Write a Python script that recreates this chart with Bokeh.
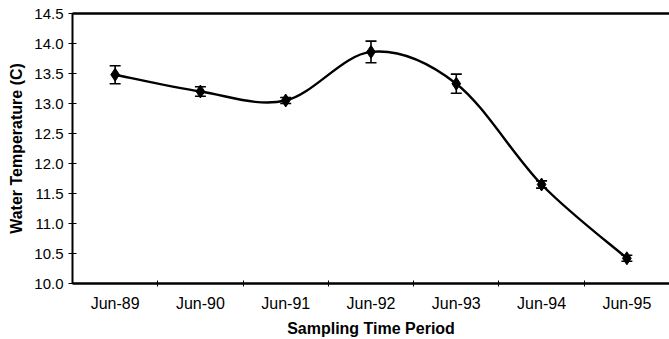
from bokeh.plotting import figure
from bokeh.models import (ColumnDataSource, FixedTicker, Whisker, TeeHead, LinearAxis,
                          Range1d, NumeralTickFormatter)
from bokeh.embed import file_html
from bokeh.resources import INLINE

periods = ["Jun-89", "Jun-90", "Jun-91", "Jun-92", "Jun-93", "Jun-94", "Jun-95"]
temps = [13.48, 13.20, 13.05, 13.86, 13.33, 11.65, 10.42]
errs = [0.15, 0.08, 0.05, 0.18, 0.16, 0.06, 0.05]
y_ticks = [10.0, 10.5, 11.0, 11.5, 12.0, 12.5, 13.0, 13.5, 14.0, 14.5]

FONT = "Liberation Sans"

xs = [i + 0.5 for i in range(len(periods))]
n = len(xs)

p = figure(width=669, height=339, output_backend="svg", toolbar_location=None,
           x_range=Range1d(0, n), y_range=Range1d(10.0, 14.5),
           min_border_left=72, min_border_right=0, min_border_top=13, min_border_bottom=55)
p.background_fill_color = "white"
p.border_fill_color = "white"
p.outline_line_color = None
p.xgrid.visible = False
p.ygrid.visible = False

# smooth (Catmull-Rom style bezier) line through the points
x0, y0, x1, y1, cx0, cy0, cx1, cy1 = [], [], [], [], [], [], [], []
for i in range(n - 1):
    pa = (xs[max(i - 1, 0)], temps[max(i - 1, 0)])
    pb = (xs[i], temps[i])
    pc = (xs[i + 1], temps[i + 1])
    pd = (xs[min(i + 2, n - 1)], temps[min(i + 2, n - 1)])
    x0.append(pb[0]); y0.append(pb[1])
    x1.append(pc[0]); y1.append(pc[1])
    cx0.append(pb[0] + (pc[0] - pa[0]) / 6); cy0.append(pb[1] + (pc[1] - pa[1]) / 6)
    cx1.append(pc[0] - (pd[0] - pb[0]) / 6); cy1.append(pc[1] - (pd[1] - pb[1]) / 6)
p.bezier(x0=x0, y0=y0, x1=x1, y1=y1, cx0=cx0, cy0=cy0, cx1=cx1, cy1=cy1,
         line_color="black", line_width=2.4)

src = ColumnDataSource(dict(x=xs, y=temps,
                            lo=[t - e for t, e in zip(temps, errs)],
                            hi=[t + e for t, e in zip(temps, errs)]))
w = Whisker(source=src, base="x", upper="hi", lower="lo", dimension="height",
            line_color="black", line_width=1.6,
            upper_head=TeeHead(size=11, line_color="black", line_width=1.6),
            lower_head=TeeHead(size=11, line_color="black", line_width=1.6))
p.add_layout(w)
p.scatter("x", "y", source=src, marker="diamond", size=13, color="black")

# x axis
xa = p.xaxis[0]
xa.ticker = FixedTicker(ticks=xs, minor_ticks=list(range(1, n)))
xa.major_label_overrides = {x: lab for x, lab in zip(xs, periods)}
xa.major_tick_line_color = None
xa.minor_tick_line_color = "black"
xa.minor_tick_in = 3
xa.minor_tick_out = 3
xa.axis_line_width = 2.5
xa.axis_line_color = "black"
xa.major_label_text_font = FONT
xa.major_label_text_font_size = "16px"
xa.major_label_text_color = "black"
xa.major_label_standoff = 5
xa.axis_label = "Sampling Time Period"
xa.axis_label_text_font = FONT
xa.axis_label_text_font_style = "bold"
xa.axis_label_text_font_size = "16px"
xa.axis_label_text_color = "black"
xa.axis_label_standoff = 5

# y axis
ya = p.yaxis[0]
ya.ticker = FixedTicker(ticks=y_ticks)
ya.formatter = NumeralTickFormatter(format="0.0")
ya.major_tick_in = 4
ya.major_tick_out = 4
ya.minor_tick_line_color = None
ya.axis_line_width = 2
ya.axis_line_color = "black"
ya.major_label_text_font = FONT
ya.major_label_text_font_size = "15px"
ya.major_label_text_color = "black"
ya.major_label_standoff = 5
ya.axis_label = "Water Temperature (C)"
ya.axis_label_text_font = FONT
ya.axis_label_text_font_style = "bold"
ya.axis_label_text_font_size = "16px"
ya.axis_label_text_color = "black"
ya.axis_label_standoff = 6

# top border line
top = LinearAxis(ticker=FixedTicker(ticks=[]), axis_line_width=2.5, axis_line_color="black",
                 major_tick_line_color=None, minor_tick_line_color=None,
                 major_label_text_font_size="0px", major_label_standoff=0)
p.add_layout(top, "above")

open("out.html", "w").write(file_html(p, INLINE))
